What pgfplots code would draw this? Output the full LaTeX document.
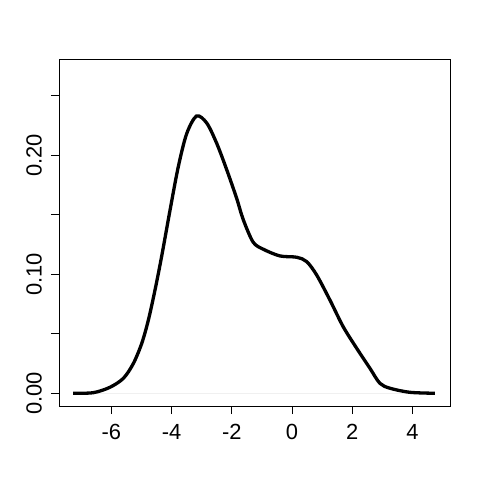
\documentclass[border=0pt]{standalone}
\usepackage{fontspec}
\setmainfont{Liberation Sans}
\usepackage{pgfplots}
\pgfplotsset{compat=1.18}
\begin{document}
\begin{tikzpicture}
\begin{axis}[
    name=ax,
    width=391bp, height=347bp,
    scale only axis,
    xmin=-7.74, xmax=5.25,
    ymin=-0.0107, ymax=0.2809,
    axis line style={line width=0.8bp},
    xtick={-6,-4,-2,0,2,4},
    ytick={0,0.05,0.10,0.15,0.20,0.25},
    yticklabels={0.00,,0.10,,0.20,},
    tick align=outside,
    major tick length=8bp,
    tick style={line width=0.8bp, black},
    xtick pos=bottom, ytick pos=left,
    /pgf/number format/assume math mode=true,
    ticklabel style={font=\fontsize{22}{25}\selectfont, inner sep=0pt},
    xticklabel style={anchor=north, yshift=-10bp},
    yticklabel style={rotate=90, anchor=south, yshift=9bp},
    xticklabel={\pgfmathprintnumber{\tick}},
]
% faint baseline under the density
\addplot[gray!12, line width=0.8bp] coordinates {(-7.27,0) (4.75,0)};
\addplot[black, line width=3.3bp, smooth, tension=0.5] coordinates {
(-7.27,0) (-6.60,0.0005) (-6.05,0.005) (-5.60,0.0126) (-5.27,0.025)
(-4.99,0.042) (-4.77,0.0616) (-4.55,0.0868) (-4.33,0.115) (-4.05,0.154)
(-3.78,0.190) (-3.50,0.218) (-3.17,0.233) (-2.83,0.227) (-2.50,0.210)
(-2.17,0.188) (-1.84,0.164) (-1.62,0.146) (-1.29,0.127) (-0.95,0.121)
(-0.40,0.1154) (0.16,0.1143) (0.49,0.1106) (0.82,0.0994) (1.26,0.0784)
(1.70,0.056) (2.15,0.0378) (2.59,0.021) (2.92,0.0084) (3.26,0.0042)
(3.92,0.0008) (4.75,0)
};
\end{axis}
\useasboundingbox ([xshift=-59bp,yshift=-74bp]ax.south west) rectangle ([xshift=30bp,yshift=59bp]ax.north east);
\end{tikzpicture}
\end{document}
